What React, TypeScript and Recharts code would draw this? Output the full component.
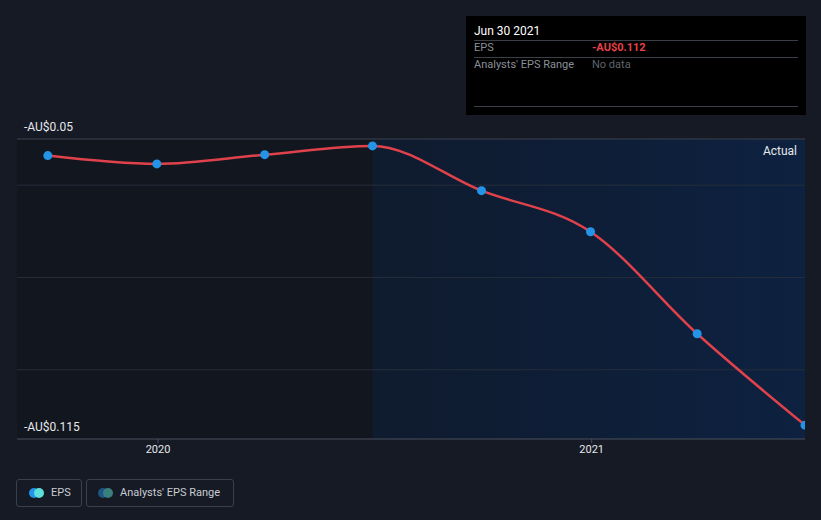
import React from "react";
import {
  ComposedChart,
  Line,
  XAxis,
  YAxis,
  ReferenceLine,
  ReferenceArea,
} from "recharts";

const periodEnds = [
  "2019-09-30",
  "2019-12-31",
  "2020-03-31",
  "2020-06-30",
  "2020-09-30",
  "2020-12-31",
  "2021-03-31",
  "2021-06-30",
];
const epsValues = [-0.0536, -0.0554, -0.0534, -0.0515, -0.0612, -0.0701, -0.0922, -0.112];
const yearTicks = ["2020-01-01", "2021-01-01"];
const gridValues = [-0.06, -0.08, -0.1];
const yLabels = [
  { value: -0.05, text: "-AU$0.05" },
  { value: -0.115, text: "-AU$0.115" },
];

const ts = (s: string) => new Date(s + "T00:00:00Z").getTime();

const data = periodEnds.map((d, i) => ({ t: ts(d), eps: epsValues[i] }));

const FONT = "Roboto, 'Noto Sans', sans-serif";
const BG = "#151a24";

const YLabel = ({ viewBox, text }: any) => (
  <text
    x={viewBox.x + 7}
    y={viewBox.y - 11}
    fill="#e6e8eb"
    fontSize={12}
    fontFamily={FONT}
    dominantBaseline="middle"
  >
    {text}
  </text>
);

export default function App() {
  return (
    <div
      style={{
        position: "fixed",
        left: 0,
        top: 0,
        width: 821,
        height: 520,
        background: BG,
        fontFamily: FONT,
        overflow: "hidden",
      }}
    >
      <ComposedChart
        width={821}
        height={520}
        data={data}
        margin={{ top: 139, right: 16, bottom: 51, left: 17 }}
      >
        <defs>
          <linearGradient id="futureBg" x1="0" y1="0" x2="1" y2="0">
            <stop offset="0%" stopColor="#0f1b2e" />
            <stop offset="100%" stopColor="#0d2140" />
          </linearGradient>
        </defs>
        <XAxis
          dataKey="t"
          type="number"
          scale="time"
          domain={[ts("2019-09-04"), ts("2021-06-30")]}
          ticks={yearTicks.map(ts)}
          tickFormatter={(v) => String(new Date(v).getUTCFullYear())}
          height={30}
          axisLine={{ stroke: "#4a505c" }}
          tickLine={{ stroke: "#4a505c" }}
          tickSize={4}
          tick={{ fill: "#e6e8eb", fontSize: 11, fontFamily: FONT }}
          allowDataOverflow
        />
        <YAxis hide domain={[-0.115, -0.05]} allowDataOverflow />
        <ReferenceArea
          x1={ts("2019-09-04")}
          x2={ts("2020-06-30")}
          y1={-0.115}
          y2={-0.05}
          fill="#12161e"
          fillOpacity={1}
          stroke="none"
          ifOverflow="hidden"
        />
        <ReferenceArea
          x1={ts("2020-06-30")}
          x2={ts("2021-06-30")}
          y1={-0.115}
          y2={-0.05}
          fill="url(#futureBg)"
          fillOpacity={1}
          stroke="none"
          ifOverflow="hidden"
        />
        {gridValues.map((v) => (
          <ReferenceLine key={v} y={v} stroke="#262d3a" strokeWidth={1} />
        ))}
        <ReferenceLine
          y={yLabels[0].value}
          stroke="#3c424e"
          strokeWidth={1}
          label={<YLabel text={yLabels[0].text} />}
        />
        <ReferenceLine
          y={yLabels[1].value}
          stroke="none"
          label={<YLabel text={yLabels[1].text} />}
        />
        <Line
          type="monotone"
          dataKey="eps"
          stroke="#e0424b"
          strokeWidth={2.5}
          dot={{ r: 4.5, fill: "#2394e8", stroke: "none" }}
          isAnimationActive={false}
        />
      </ComposedChart>

      <div
        style={{
          position: "absolute",
          right: 24,
          top: 144,
          color: "#e6e8eb",
          fontSize: 12,
        }}
      >
        Actual
      </div>

      {/* static tooltip box */}
      <div
        style={{
          position: "absolute",
          left: 466,
          top: 16,
          width: 340,
          height: 99,
          background: "#000",
          fontSize: 11,
        }}
      >
        <div style={{ position: "absolute", left: 8, top: 8, color: "#fff", fontSize: 12 }}>
          Jun 30 2021
        </div>
        <div style={{ position: "absolute", left: 8, right: 8, top: 24, borderTop: "1px solid #3a3f48" }} />
        <div style={{ position: "absolute", left: 8, top: 25, color: "#8a8f98" }}>EPS</div>
        <div style={{ position: "absolute", left: 126, top: 25, color: "#e8404a", fontWeight: 700 }}>
          -AU$0.112
        </div>
        <div style={{ position: "absolute", left: 8, right: 8, top: 41, borderTop: "1px solid #3a3f48" }} />
        <div style={{ position: "absolute", left: 8, top: 42, color: "#8a8f98" }}>
          Analysts' EPS Range
        </div>
        <div style={{ position: "absolute", left: 126, top: 42, color: "#5f646c" }}>No data</div>
        <div style={{ position: "absolute", left: 8, right: 8, top: 90, borderTop: "1px solid #3a3f48" }} />
      </div>

      {/* legend */}
      <div
        style={{
          position: "absolute",
          left: 16,
          top: 479,
          width: 64,
          height: 26,
          border: "1px solid #3a404c",
          borderRadius: 3,
          color: "#c8ccd2",
          fontSize: 11,
        }}
      >
        <span style={{ position: "absolute", left: 12, top: 8, width: 10, height: 10, borderRadius: 5, background: "#2394e8" }} />
        <span style={{ position: "absolute", left: 17, top: 8, width: 10, height: 10, borderRadius: 5, background: "#5ce0d8" }} />
        <span style={{ position: "absolute", left: 34, top: 6 }}>EPS</span>
      </div>
      <div
        style={{
          position: "absolute",
          left: 86,
          top: 479,
          width: 146,
          height: 26,
          border: "1px solid #3a404c",
          borderRadius: 3,
          color: "#c8ccd2",
          fontSize: 11,
        }}
      >
        <span style={{ position: "absolute", left: 11, top: 8, width: 10, height: 10, borderRadius: 5, background: "#1f5585" }} />
        <span style={{ position: "absolute", left: 16, top: 8, width: 10, height: 10, borderRadius: 5, background: "#3a7f7e" }} />
        <span style={{ position: "absolute", left: 33, top: 6 }}>Analysts' EPS Range</span>
      </div>
    </div>
  );
}
